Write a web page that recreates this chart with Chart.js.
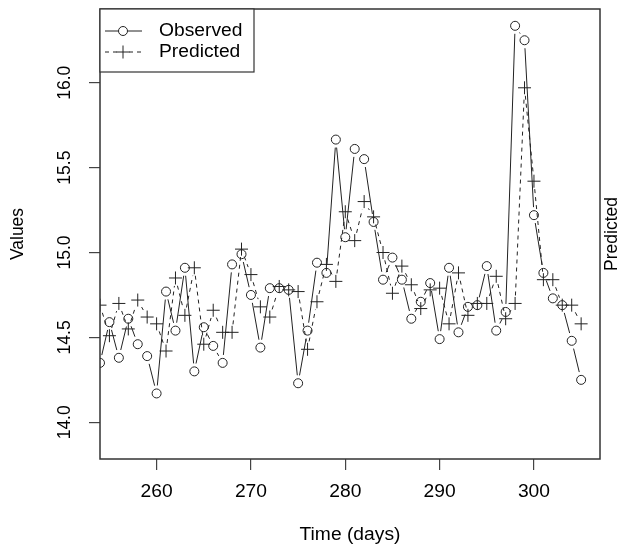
<!DOCTYPE html>
<html>
<head>
<meta charset="utf-8">
<title>Observed vs Predicted</title>
<script src="https://cdn.jsdelivr.net/npm/chart.js@4.4.1/dist/chart.umd.min.js"></script>
<style>
  html, body { margin: 0; padding: 0; background: #fff; }
  canvas { display: block; }
</style>
</head>
<body>
<canvas id="valuesChart" width="619" height="546"></canvas>
<script>
const days = [254, 255, 256, 257, 258, 259, 260, 261, 262, 263, 264, 265, 266,
  267, 268, 269, 270, 271, 272, 273, 274, 275, 276, 277, 278, 279, 280, 281,
  282, 283, 284, 285, 286, 287, 288, 289, 290, 291, 292, 293, 294, 295, 296,
  297, 298, 299, 300, 301, 302, 303, 304, 305];

const observed = [14.35, 14.59, 14.38, 14.61, 14.46, 14.39, 14.17, 14.77, 14.54,
  14.91, 14.30, 14.56, 14.45, 14.35, 14.93, 14.99, 14.75, 14.44, 14.79, 14.79,
  14.78, 14.23, 14.54, 14.94, 14.88, 15.665, 15.09, 15.61, 15.55, 15.18, 14.84,
  14.97, 14.84, 14.61, 14.71, 14.82, 14.49, 14.91, 14.53, 14.68, 14.69, 14.92,
  14.54, 14.65, 16.335, 16.25, 15.22, 14.88, 14.73, 14.69, 14.48, 14.25];

const predicted = [14.69, 14.51, 14.70, 14.55, 14.72, 14.62, 14.58, 14.42, 14.85,
  14.63, 14.91, 14.46, 14.66, 14.53, 14.53, 15.02, 14.87, 14.68, 14.62, 14.80,
  14.78, 14.77, 14.43, 14.71, 14.93, 14.83, 15.24, 15.07, 15.30, 15.21, 15.00,
  14.76, 14.92, 14.81, 14.67, 14.78, 14.79, 14.58, 14.88, 14.63, 14.70, 14.70,
  14.86, 14.61, 14.70, 15.97, 15.42, 14.84, 14.84, 14.69, 14.69, 14.58];

const xTicks = [260, 270, 280, 290, 300];
const yTicks = [14.0, 14.5, 15.0, 15.5, 16.0];
const seriesNames = ["Observed", "Predicted"];

const FONT = '"Liberation Sans", Arial, Helvetica, sans-serif';
const INK = "#222";
const GAP = 8; // R type="b": lines stop short of the points

// text is slightly wider than tall in the picture, so stretch x a little
function drawText(ctx, text, x, y, rotated, align) {
  ctx.save();
  ctx.translate(x, y);
  ctx.scale(1.1, 1);
  if (rotated) ctx.rotate(-Math.PI / 2);
  ctx.font = "17.5px " + FONT;
  ctx.fillStyle = "#000";
  ctx.textAlign = align || "center";
  ctx.textBaseline = "middle";
  ctx.fillText(text, 0, 0);
  ctx.restore();
}

const rStylePlugin = {
  id: "rStyle",
  beforeDatasetsDraw(chart) {
    const ctx = chart.ctx;
    const area = chart.chartArea;
    ctx.save();
    ctx.beginPath();
    ctx.rect(area.left, area.top, area.right - area.left, area.bottom - area.top);
    ctx.clip();
    chart.data.datasets.forEach((ds, i) => {
      const pts = chart.getDatasetMeta(i).data;
      ctx.strokeStyle = INK;
      ctx.lineWidth = 1;
      ctx.setLineDash(ds.gapDash);
      for (let k = 1; k < pts.length; k++) {
        const a = pts[k - 1], b = pts[k];
        const dx = b.x - a.x, dy = b.y - a.y;
        const len = Math.hypot(dx, dy);
        if (len <= 2 * GAP) continue;
        const ux = dx / len, uy = dy / len;
        ctx.beginPath();
        ctx.moveTo(a.x + ux * GAP, a.y + uy * GAP);
        ctx.lineTo(b.x - ux * GAP, b.y - uy * GAP);
        ctx.stroke();
      }
    });
    ctx.restore();
  },
  afterDraw(chart) {
    const ctx = chart.ctx;
    const area = chart.chartArea;
    const xs = chart.scales.x, ys = chart.scales.y;

    // plot box
    ctx.save();
    ctx.strokeStyle = "#333";
    ctx.lineWidth = 1.5;
    ctx.strokeRect(area.left, area.top, area.right - area.left, area.bottom - area.top);
    ctx.restore();

    // tick labels
    xs.ticks.forEach(t => drawText(ctx, String(t.value), xs.getPixelForValue(t.value), 492, false));
    ys.ticks.forEach(t => drawText(ctx, t.value.toFixed(1), 65, ys.getPixelForValue(t.value), true));

    // axis titles
    const midY = (area.top + area.bottom) / 2;
    drawText(ctx, "Time (days)", (area.left + area.right) / 2, 535, false);
    drawText(ctx, "Values", 18, midY, true);
    drawText(ctx, "Predicted", 612, midY, true);

    // legend
    const lx = area.left, ly = area.top;
    ctx.save();
    ctx.fillStyle = "#fff";
    ctx.fillRect(lx, ly, 154, 63);
    ctx.strokeStyle = "#333";
    ctx.lineWidth = 1.2;
    ctx.strokeRect(lx, ly, 154, 63);

    ctx.strokeStyle = INK;
    ctx.lineWidth = 1;
    const rows = [ly + 22, ly + 43];
    // observed sample: -o-
    ctx.beginPath();
    ctx.moveTo(lx + 5, rows[0]); ctx.lineTo(lx + 18, rows[0]);
    ctx.moveTo(lx + 28, rows[0]); ctx.lineTo(lx + 42, rows[0]);
    ctx.stroke();
    ctx.beginPath();
    ctx.arc(lx + 23, rows[0], 4.5, 0, Math.PI * 2);
    ctx.stroke();
    // predicted sample: - - + - -
    ctx.setLineDash([4, 4]);
    ctx.beginPath();
    ctx.moveTo(lx + 5, rows[1]); ctx.lineTo(lx + 17, rows[1]);
    ctx.moveTo(lx + 29, rows[1]); ctx.lineTo(lx + 42, rows[1]);
    ctx.stroke();
    ctx.setLineDash([]);
    ctx.beginPath();
    ctx.moveTo(lx + 16.5, rows[1]); ctx.lineTo(lx + 29.5, rows[1]);
    ctx.moveTo(lx + 23, rows[1] - 6.5); ctx.lineTo(lx + 23, rows[1] + 6.5);
    ctx.stroke();
    ctx.restore();

    seriesNames.forEach((name, i) => drawText(ctx, name, lx + 59, rows[i], false, "left"));
  }
};

function toPoints(values) {
  return days.map((d, i) => ({ x: d, y: values[i] }));
}

const ctx = document.getElementById("valuesChart").getContext("2d");
new Chart(ctx, {
  type: "scatter",
  data: {
    datasets: [{
      label: seriesNames[0],
      data: toPoints(observed),
      showLine: false,
      gapDash: [],
      pointStyle: "circle",
      pointRadius: 4.5,
      pointBorderWidth: 1,
      pointBorderColor: INK,
      pointBackgroundColor: "rgba(0,0,0,0)"
    }, {
      label: seriesNames[1],
      data: toPoints(predicted),
      showLine: false,
      gapDash: [4, 4],
      pointStyle: "cross",
      pointRadius: 6.5,
      pointBorderWidth: 1,
      pointBorderColor: INK,
      pointBackgroundColor: "rgba(0,0,0,0)"
    }]
  },
  options: {
    responsive: false,
    animation: false,
    devicePixelRatio: 1,
    events: [],
    layout: { padding: { top: 9, right: 19, left: 0, bottom: 0 } },
    plugins: { legend: { display: false }, tooltip: { enabled: false } },
    scales: {
      x: {
        type: "linear",
        min: 254,
        max: 307,
        afterBuildTicks: s => { s.ticks = xTicks.map(v => ({ value: v })); },
        afterFit: s => { s.height = 87; },
        ticks: { display: false },
        border: { display: false },
        grid: { drawOnChartArea: false, drawTicks: true, tickLength: 11, color: "#444", lineWidth: 1.2 }
      },
      y: {
        type: "linear",
        min: 13.784,
        max: 16.434,
        afterBuildTicks: s => { s.ticks = yTicks.map(v => ({ value: v })); },
        afterFit: s => { s.width = 100; },
        ticks: { display: false },
        border: { display: false },
        grid: { drawOnChartArea: false, drawTicks: true, tickLength: 11, color: "#444", lineWidth: 1.2 }
      }
    }
  },
  plugins: [rStylePlugin]
});
</script>
</body>
</html>
